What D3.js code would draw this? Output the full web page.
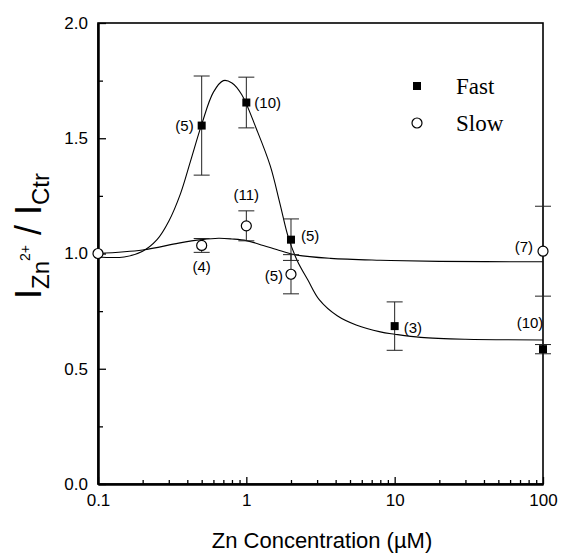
<!DOCTYPE html>
<html>
<head>
<meta charset="utf-8">
<script src="https://cdn.jsdelivr.net/npm/d3@7"></script>
<style>
  body { margin: 0; background: #fff; }
  text { font-family: "Liberation Sans", Arial, sans-serif; fill: #000; }
</style>
</head>
<body>
<div id="chart"></div>
<script>
// measured points (Zn concentration in µM)
const fastConc = [0.5, 1, 2, 10, 100];
const fastMean = [1.555, 1.655, 1.06, 0.685, 0.585];
const fastErr  = [0.215, 0.11, 0.09, 0.105, 0.02];
const fastN    = ["(5)", "(10)", "(5)", "(3)", "(10)"];
const fastNPos = ["left", "right", "right", "right", "above"];

const slowConc = [0.1, 0.5, 1, 2, 100];
const slowMean = [1.0, 1.035, 1.12, 0.91, 1.01];
const slowErr  = [0, 0.03, 0.065, 0.085, 0.195];
const slowN    = ["", "(4)", "(11)", "(5)", "(7)"];
const slowNPos = ["", "below", "above", "left", "left"];

// fitted curves
const fastFitConc = [0.1, 0.15, 0.2, 0.25, 0.3, 0.36, 0.42, 0.5, 0.6, 0.7, 0.8, 0.93, 1.17, 1.45, 1.68, 1.92, 2.2, 2.6, 3.1, 4.1, 5.5, 8, 10, 15, 30, 100];
const fastFitVal  = [0.985, 0.985, 1.01, 1.06, 1.14, 1.26, 1.40, 1.56, 1.70, 1.75, 1.74, 1.69, 1.54, 1.38, 1.22, 1.07, 0.97, 0.885, 0.80, 0.73, 0.69, 0.66, 0.65, 0.636, 0.628, 0.625];
const slowFitConc = [0.1, 0.2, 0.35, 0.5, 0.65, 0.8, 1, 1.3, 1.7, 2.2, 3.7, 8, 20, 100];
const slowFitVal  = [1.0, 1.015, 1.045, 1.06, 1.066, 1.063, 1.056, 1.035, 1.012, 0.993, 0.979, 0.971, 0.966, 0.964];

const xTicks = [0.1, 1, 10, 100];
const xTickLabels = ["0.1", "1", "10", "100"];
const yTicks = [0, 0.5, 1, 1.5, 2];
const yMinor = [0.25, 0.75, 1.25, 1.75];

const W = 564, H = 556;
const margin = { top: 23, right: 21, bottom: 72, left: 98 };

const svg = d3.select("#chart").append("svg")
  .attr("width", W)
  .attr("height", H);

const x = d3.scaleLog().domain([0.1, 100]).range([margin.left, W - margin.right]);
const y = d3.scaleLinear().domain([0, 2]).range([H - margin.bottom, margin.top]);

const xMinor = [];
[0.1, 1, 10].forEach(d => { for (let k = 2; k <= 9; k++) xMinor.push(d * k); });

// frame
svg.append("rect")
  .attr("x", x(0.1)).attr("y", y(2))
  .attr("width", x(100) - x(0.1)).attr("height", y(0) - y(2))
  .attr("fill", "none").attr("stroke", "#000").attr("stroke-width", 1.6);

// axes
svg.append("g").attr("transform", `translate(0,${y(0)})`)
  .call(d3.axisBottom(x).tickValues(xTicks).tickSizeInner(-7).tickSizeOuter(0).tickPadding(10)
    .tickFormat((d, i) => xTickLabels[i]));
svg.append("g").attr("transform", `translate(0,${y(0)})`)
  .call(d3.axisBottom(x).tickValues(xMinor).tickSizeInner(-4).tickSizeOuter(0).tickFormat(""));

svg.append("g").attr("transform", `translate(${x(0.1)},0)`)
  .call(d3.axisLeft(y).tickValues(yTicks).tickSizeInner(-8).tickSizeOuter(0).tickPadding(10)
    .tickFormat(d3.format(".1f")));
svg.append("g").attr("transform", `translate(${x(0.1)},0)`)
  .call(d3.axisLeft(y).tickValues(yMinor).tickSizeInner(-5).tickSizeOuter(0).tickFormat(""));

svg.selectAll(".domain").attr("stroke", "#000").attr("stroke-width", 2);
svg.selectAll(".tick line").attr("stroke", "#000").attr("stroke-width", 1.3);
svg.selectAll(".tick text").style("font-size", "17px").style("font-family", "'Liberation Sans', Arial, sans-serif");

// axis titles
svg.append("text")
  .attr("x", 322).attr("y", 548)
  .attr("text-anchor", "middle")
  .style("font-size", "22px")
  .text("Zn Concentration (\u00b5M)");

const yt = svg.append("text")
  .attr("transform", "translate(41,236) rotate(-90)")
  .attr("text-anchor", "middle")
  .style("font-size", "36px");
yt.append("tspan").text("I");
yt.append("tspan").attr("dy", 8).style("font-size", "24px").text("Zn");
yt.append("tspan").attr("dy", -19).style("font-size", "14px").text("2+");
yt.append("tspan").attr("dy", 11).text(" / I");
yt.append("tspan").attr("dy", 8).style("font-size", "24px").text("Ctr");

// fitted lines
const line = d3.line()
  .x(d => x(d[0]))
  .y(d => y(d[1]))
  .curve(d3.curveCatmullRom.alpha(0.5));

svg.append("path")
  .datum(fastFitConc.map((c, i) => [c, fastFitVal[i]]))
  .attr("d", line).attr("fill", "none").attr("stroke", "#000").attr("stroke-width", 1.1);
svg.append("path")
  .datum(slowFitConc.map((c, i) => [c, slowFitVal[i]]))
  .attr("d", line).attr("fill", "none").attr("stroke", "#000").attr("stroke-width", 1.1);

// error bars
function errorBars(conc, mean, err) {
  const g = svg.append("g").attr("stroke", "#222").attr("stroke-width", 1);
  conc.forEach((c, i) => {
    if (!err[i]) return;
    const cx = x(c), y1 = y(mean[i] - err[i]), y2 = y(mean[i] + err[i]);
    g.append("line").attr("x1", cx).attr("x2", cx).attr("y1", y1).attr("y2", y2);
    g.append("line").attr("x1", cx - 8).attr("x2", cx + 8).attr("y1", y1).attr("y2", y1);
    g.append("line").attr("x1", cx - 8).attr("x2", cx + 8).attr("y1", y2).attr("y2", y2);
  });
}
errorBars(fastConc, fastMean, fastErr);
errorBars(slowConc, slowMean, slowErr);

// markers
svg.selectAll(".fast")
  .data(fastConc.map((c, i) => [c, fastMean[i]]))
  .enter().append("rect")
  .attr("class", "fast")
  .attr("x", d => x(d[0]) - 4).attr("y", d => y(d[1]) - 4)
  .attr("width", 8).attr("height", 8)
  .attr("fill", "#000");

svg.selectAll(".slow")
  .data(slowConc.map((c, i) => [c, slowMean[i]]))
  .enter().append("circle")
  .attr("class", "slow")
  .attr("cx", d => x(d[0])).attr("cy", d => y(d[1]))
  .attr("r", 5)
  .attr("fill", "#fff").attr("stroke", "#000").attr("stroke-width", 1.2);

// n labels
const place = {
  left:  { dx: -8, dy: 5, anchor: "end" },
  right: { dx: 8, dy: 5, anchor: "start" },
  above: { dx: 0, dy: -18, anchor: "middle" },
  below: { dx: 0, dy: 27, anchor: "middle" }
};
function nLabels(conc, mean, labels, pos, extra) {
  conc.forEach((c, i) => {
    if (!labels[i]) return;
    const p = place[pos[i]];
    svg.append("text")
      .attr("x", x(c) + p.dx + (extra[i] ? extra[i][0] : 0))
      .attr("y", y(mean[i]) + p.dy + (extra[i] ? extra[i][1] : 0))
      .attr("text-anchor", p.anchor)
      .style("font-size", "15px")
      .text(labels[i]);
  });
}
nLabels(fastConc, fastMean, fastN, fastNPos, [null, null, [2, -4], [1, 2], [-13, -3]]);
nLabels(slowConc, slowMean, slowN, slowNPos, [null, null, [0, -8], [0, 2], [-2, -4]]);

// legend
svg.append("rect").attr("x", 413).attr("y", 82).attr("width", 8).attr("height", 8).attr("fill", "#000");
svg.append("circle").attr("cx", 417).attr("cy", 123).attr("r", 5)
  .attr("fill", "#fff").attr("stroke", "#000").attr("stroke-width", 1.2);
svg.append("text").attr("x", 456).attr("y", 94)
  .style("font-family", "'Liberation Serif', 'Times New Roman', serif").style("font-size", "23px").text("Fast");
svg.append("text").attr("x", 456).attr("y", 131)
  .style("font-family", "'Liberation Serif', 'Times New Roman', serif").style("font-size", "23px").text("Slow");
</script>
</body>
</html>
